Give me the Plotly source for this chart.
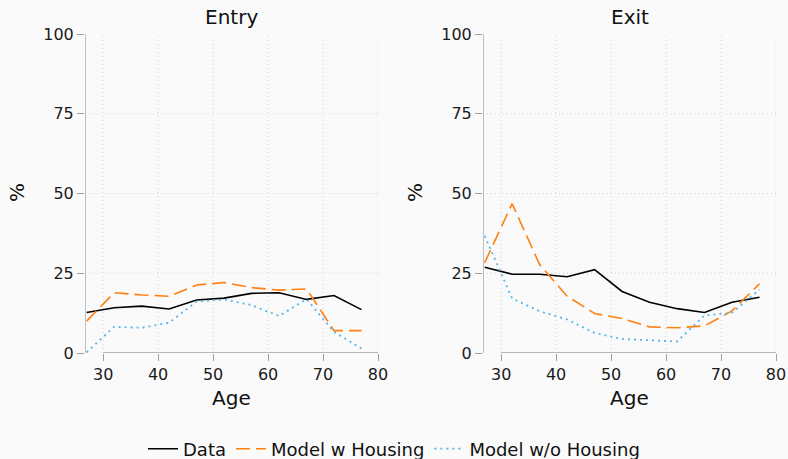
import plotly.graph_objects as go

# Age groups (midpoints) and rates in percent
ages = [27, 32, 37, 42, 47, 52, 57, 62, 67, 72, 77]

entry_data = [12.7, 14.2, 14.7, 13.8, 16.6, 17.2, 18.7, 18.9, 16.8, 18.0, 13.6]
entry_model_housing = [10.0, 18.9, 18.2, 17.8, 21.3, 22.1, 20.5, 19.7, 20.1, 7.0, 7.0]
entry_model_no_housing = [0.2, 8.2, 7.9, 9.5, 16.1, 16.8, 15.0, 11.6, 16.9, 6.6, 1.4]

exit_data = [26.9, 24.7, 24.7, 23.9, 26.1, 19.3, 15.9, 13.9, 12.7, 15.9, 17.5]
exit_model_housing = [28.3, 46.8, 27.7, 17.8, 12.4, 10.8, 8.2, 7.9, 8.5, 13.2, 21.7]
exit_model_no_housing = [36.7, 17.1, 13.1, 10.5, 6.3, 4.4, 4.0, 3.6, 11.8, 12.6, 19.9]

panel_titles = ["Entry", "Exit"]
series_names = ["Data", "Model w Housing", "Model w/o Housing"]
x_ticks = [30, 40, 50, 60, 70, 80]
y_ticks = [0, 25, 50, 75, 100]

W, H = 788, 459
X_RANGE = [26.7, 80]
Y_RANGE = [0, 100]
BG = "#fafafa"
AXIS_COLOR = "#a0a0a0"
GRID_COLOR = "#d4d4d4"
FONT = "DejaVu Sans"

styles = [
    dict(color="#000000", width=1.6, dash="solid"),
    dict(color="#ff7f0e", width=1.6, dash="14px,6px"),
    dict(color="#56b4e9", width=1.8, dash="2px,4px"),
]

panels = [
    [entry_data, entry_model_housing, entry_model_no_housing],
    [exit_data, exit_model_housing, exit_model_no_housing],
]

# panel placement in paper coordinates
x_domains = [[85 / W, 378 / W], [483 / W, 776 / W]]
y_domain = [1 - 353 / H, 1 - 34 / H]

fig = go.Figure()

for p, series in enumerate(panels):
    xa = "x" if p == 0 else "x2"
    ya = "y" if p == 0 else "y2"
    for s, values in enumerate(series):
        fig.add_trace(go.Scatter(
            x=ages, y=values, mode="lines",
            name=series_names[s],
            line=styles[s],
            xaxis=xa, yaxis=ya,
            showlegend=(p == 0),
            legendgroup=series_names[s],
        ))

axis_common = dict(
    showgrid=False, zeroline=False, showline=False, automargin=False,
    ticks="outside", ticklen=7, tickwidth=1.3, tickcolor=AXIS_COLOR,
    tickfont=dict(family=FONT, size=16, color="#1a1a1a"),
)

layout_axes = {}
for p in range(2):
    sx = "" if p == 0 else "2"
    layout_axes["xaxis" + sx] = dict(
        axis_common, domain=x_domains[p], range=X_RANGE,
        tickvals=x_ticks, anchor="y" + sx,
    )
    layout_axes["yaxis" + sx] = dict(
        axis_common, domain=y_domain, range=Y_RANGE,
        tickvals=y_ticks, anchor="x" + sx,
    )

shapes = []
for p in range(2):
    xr = "x" if p == 0 else "x2"
    yr = "y" if p == 0 else "y2"
    # dotted grid
    for xv in x_ticks:
        shapes.append(dict(type="line", xref=xr, yref=yr, x0=xv, x1=xv,
                           y0=Y_RANGE[0], y1=Y_RANGE[1], layer="below",
                           line=dict(color=GRID_COLOR, width=1, dash="1px,3px")))
    for yv in y_ticks[1:-1]:
        shapes.append(dict(type="line", xref=xr, yref=yr, x0=X_RANGE[0], x1=x_ticks[-1],
                           y0=yv, y1=yv, layer="below",
                           line=dict(color=GRID_COLOR, width=1, dash="1px,3px")))
    # axis lines
    shapes.append(dict(type="line", xref=xr, yref=yr, x0=X_RANGE[0], x1=X_RANGE[0],
                       y0=y_ticks[0], y1=y_ticks[-1], layer="above",
                       line=dict(color=AXIS_COLOR, width=1.3)))
    shapes.append(dict(type="line", xref=xr, yref=yr, x0=x_ticks[0], x1=x_ticks[-1],
                       y0=Y_RANGE[0], y1=Y_RANGE[0], layer="above",
                       line=dict(color=AXIS_COLOR, width=1.3)))

annotations = []
for p in range(2):
    cx = (x_domains[p][0] + x_domains[p][1]) / 2
    annotations.append(dict(text=panel_titles[p], x=cx, y=1 - 17 / H, xref="paper", yref="paper",
                            showarrow=False, xanchor="center", yanchor="middle",
                            font=dict(family=FONT, size=20, color="#111111")))
    annotations.append(dict(text="Age", x=cx, y=1 - 398 / H, xref="paper", yref="paper",
                            showarrow=False, xanchor="center", yanchor="middle",
                            font=dict(family=FONT, size=20, color="#111111")))
    px = 17 if p == 0 else 415
    annotations.append(dict(text="%", x=px / W, y=1 - 193 / H, xref="paper", yref="paper",
                            showarrow=False, xanchor="center", yanchor="middle", textangle=-90,
                            font=dict(family=FONT, size=20, color="#111111")))

fig.update_layout(
    width=W, height=H,
    margin=dict(l=0, r=0, t=0, b=0, autoexpand=False),
    paper_bgcolor=BG, plot_bgcolor=BG,
    font=dict(family=FONT, color="#111111"),
    shapes=shapes,
    annotations=annotations,
    legend=dict(orientation="h", x=0.5, xanchor="center",
                y=(H - 449) / H, yanchor="middle",
                font=dict(family=FONT, size=18, color="#111111"),
                bgcolor="rgba(0,0,0,0)", itemwidth=30, tracegroupgap=0),
    **layout_axes,
)

fig.write_html("out.html")
